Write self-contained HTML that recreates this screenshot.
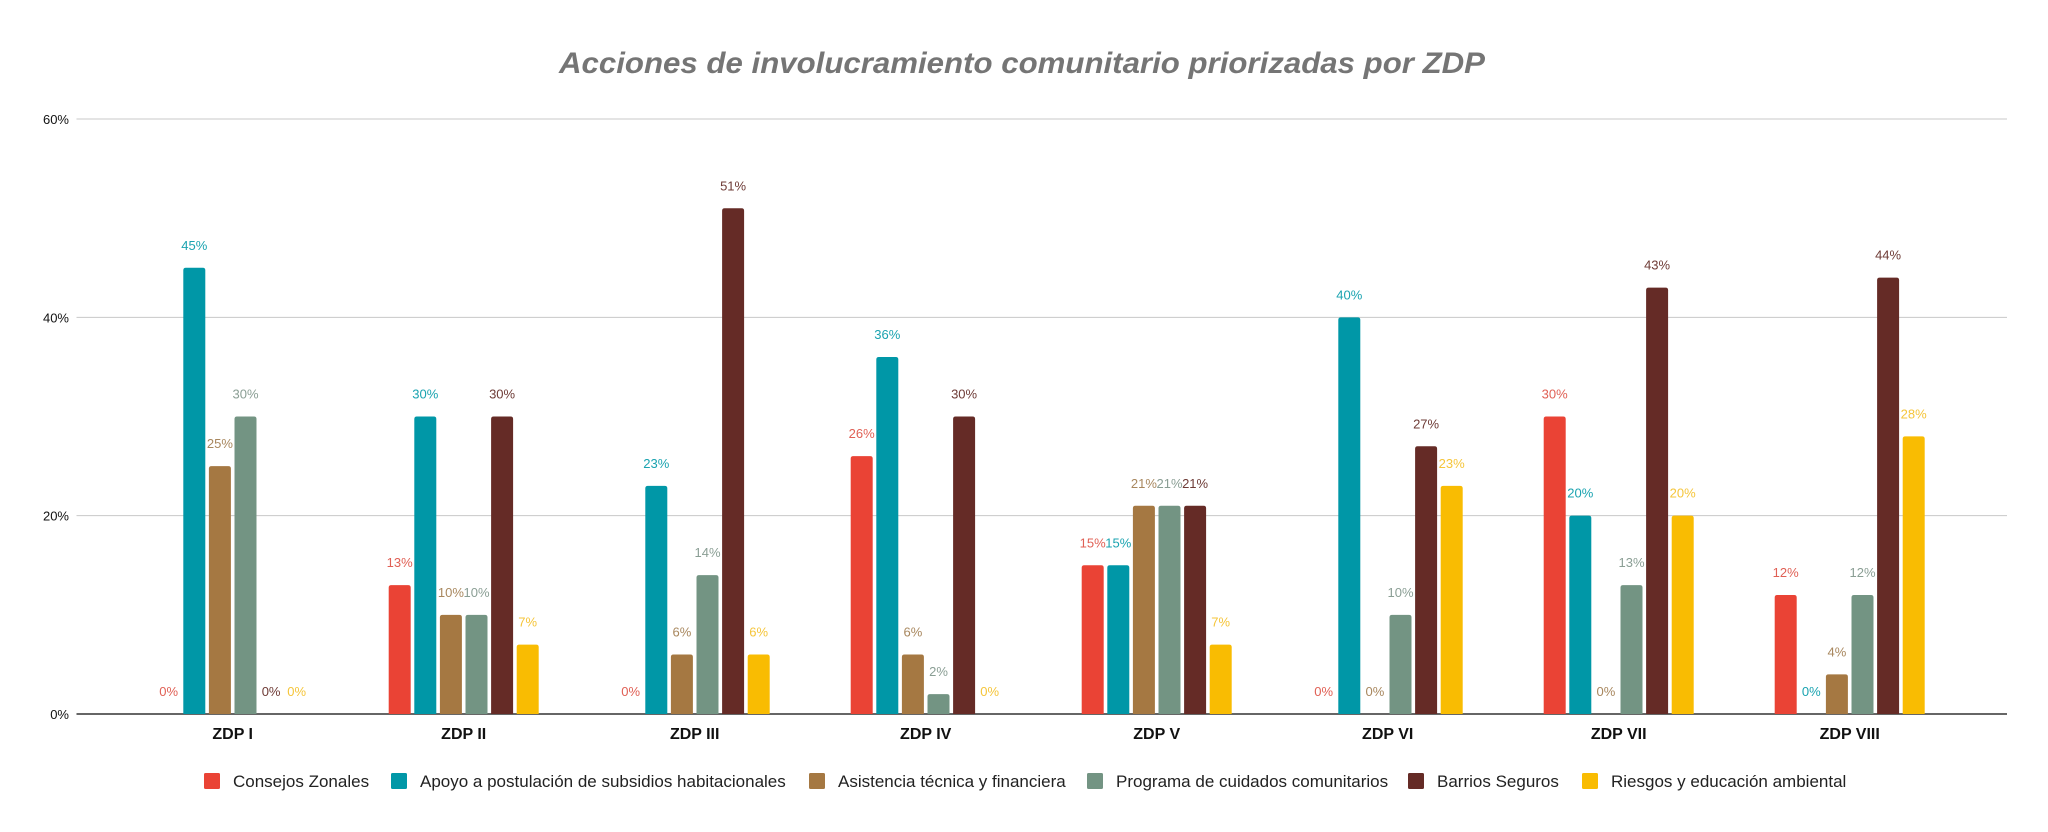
<!DOCTYPE html>
<html><head><meta charset="utf-8"><style>
html,body{margin:0;padding:0;background:#fff;}
svg{display:block;font-family:"Liberation Sans",sans-serif;}
</style></head><body>
<svg id="chart" width="2048" height="832" viewBox="0 0 2048 832" xmlns="http://www.w3.org/2000/svg">
<rect width="2048" height="832" fill="#fff"/>
<text x="1022" y="73" text-anchor="middle" font-size="30" font-weight="bold" font-style="italic" fill="#757575" textLength="926" lengthAdjust="spacingAndGlyphs">Acciones de involucramiento comunitario priorizadas por ZDP</text>
<g id="grid"></g><g id="bars"></g><g id="labels"></g><g id="legend"></g>
</svg>
<script>
const categories = ["ZDP I","ZDP II","ZDP III","ZDP IV","ZDP V","ZDP VI","ZDP VII","ZDP VIII"];
const seriesNames = ["Consejos Zonales","Apoyo a postulación de subsidios habitacionales","Asistencia técnica y financiera","Programa de cuidados comunitarios","Barrios Seguros","Riesgos y educación ambiental"];
const consejos = [0,13,0,26,15,0,30,12];
const apoyo = [45,30,23,36,15,40,20,0];
const asistencia = [25,10,6,6,21,0,0,4];
const cuidados = [30,10,14,2,21,10,13,12];
const barrios = [0,30,51,30,21,27,43,44];
const riesgos = [0,7,6,0,7,23,20,28];
const yTicks = [0,20,40,60];

const series = [consejos,apoyo,asistencia,cuidados,barrios,riesgos];
const colors = ["#ea4335","#0097a7","#a57842","#739483","#652b26","#f9bc02"];
const labelColors = ["#e06055","#1aa3b0","#a8875e","#8a9e94","#6e3b36","#f5c53a"];
const NS="http://www.w3.org/2000/svg";
const y0=714, yTop=119, yMax=60, plotL=76.5, plotR=2007;
const yScale=v=>y0-(v/yMax)*(y0-yTop);
const c0=232.7, band=231, step=25.6, bw=22;
const xCenter=i=>c0+band*i;
function mk(tag,attrs,parent){const e=document.createElementNS(NS,tag);for(const k in attrs)e.setAttribute(k,attrs[k]);parent.appendChild(e);return e;}
const grid=document.getElementById('grid'), bars=document.getElementById('bars'), labels=document.getElementById('labels'), legend=document.getElementById('legend');
yTicks.forEach(t=>{
  const y=yScale(t);
  const l=mk('line',{x1:plotL,x2:plotR,y1:y,y2:y,stroke:t===0?'#333':'#c8c8c8','stroke-width':t===0?1.5:1},grid);
  
  
  const tx=mk('text',{x:69,y:y+5,'text-anchor':'end','font-size':13,fill:'#111'},grid);
  tx.textContent=t+'%';
  
  
});
categories.forEach((c,i)=>{
  const tx=mk('text',{x:xCenter(i),y:739,'text-anchor':'middle','font-size':16,'font-weight':'bold',fill:'#111'},labels);
  tx.textContent=c;
  
  
  series.forEach((s,j)=>{
    const v=s[i];
    const x=xCenter(i)+(j-2.5)*step-bw/2;
    const yt=yScale(v);
    if(v>0){
      const h=y0-yt, r=Math.min(2.5,h/2);
      const p=mk('path',{d:`M${x},${y0}V${yt+r}Q${x},${yt} ${x+r},${yt}H${x+bw-r}Q${x+bw},${yt} ${x+bw},${yt+r}V${y0}Z`,fill:colors[j]},bars);
      
      
    }
    const lt=mk('text',{x:x+bw/2,y:yt-18,'text-anchor':'middle','font-size':13,fill:labelColors[j]},labels);
    lt.textContent=v+'%';
    
    
  });
});
const legX=[204,391,809,1087,1408,1582];
seriesNames.forEach((n,j)=>{
  const g=mk('g',{},legend);
  
  
  mk('rect',{x:legX[j],y:773,width:16,height:16,rx:1.5,fill:colors[j]},g);
  const t=mk('text',{x:legX[j]+29,y:787,'font-size':17,fill:'#222'},g);
  t.textContent=n;
});
</script>
</body></html>
